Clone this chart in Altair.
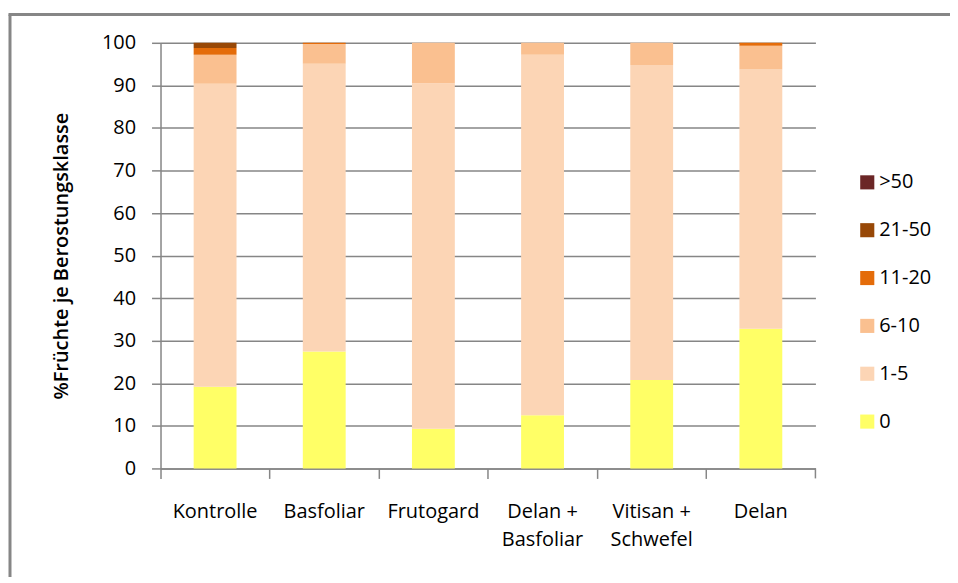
import altair as alt
import pandas as pd

categories = ["Kontrolle", "Basfoliar", "Frutogard", "Delan +\nBasfoliar", "Vitisan +\nSchwefel", "Delan"]
classes = ["0", "1-5", "6-10", "11-20", "21-50", ">50"]
v_0 = [19.2, 27.5, 9.3, 12.5, 20.8, 32.8]
v_1_5 = [71.2, 67.6, 81.2, 84.7, 74.0, 60.9]
v_6_10 = [6.8, 4.6, 9.5, 2.8, 5.2, 5.6]
v_11_20 = [1.6, 0.3, 0.0, 0.0, 0.0, 0.7]
v_21_50 = [1.2, 0.0, 0.0, 0.0, 0.0, 0.0]
v_50 = [0.0, 0.0, 0.0, 0.0, 0.0, 0.0]
colors = ["#FFFF66", "#FCD5B5", "#FAC090", "#E46C0A", "#984807", "#6B2626"]
yticks = list(range(0, 101, 10))

series = [v_0, v_1_5, v_6_10, v_11_20, v_21_50, v_50]
rows = []
for ci, cls in enumerate(classes):
    for ki, cat in enumerate(categories):
        rows.append({"cat": cat, "cls": cls, "val": series[ci][ki], "ord": ci})
df = pd.DataFrame(rows)

W, H = 657, 427
grey = "#868686"

bars = alt.Chart(df).mark_bar(size=43).encode(
    x=alt.X("cat:N", sort=categories, title=None,
            scale=alt.Scale(paddingInner=0, paddingOuter=0),
            axis=alt.Axis(labelAngle=0, bandPosition=0, ticks=True, tickSize=10,
                          labelPadding=23, domainColor=grey, tickColor=grey,
                          domainWidth=1.5, tickWidth=1.5,
                          labelExpr="split(datum.value, '\\n')", labelLineHeight=28,
                          labelFontSize=20, labelColor="#000000", grid=False)),
    y=alt.Y("val:Q", stack="zero", title="%Früchte je Berostungsklasse",
            scale=alt.Scale(domain=[0, 100], nice=False),
            axis=alt.Axis(values=yticks, tickSize=9, labelPadding=16, grid=True,
                          gridColor=grey, gridWidth=1.5, domainColor=grey, tickColor=grey,
                          domainWidth=1.5, tickWidth=1.5, labelFontSize=20,
                          labelColor="#000000", titleFontSize=20, titleFontWeight=600,
                          titleColor="#000000", titlePadding=30)),
    color=alt.Color("cls:N", scale=alt.Scale(domain=classes[::-1], range=colors[::-1]),
                    title=None,
                    legend=alt.Legend(orient="none", legendX=699, legendY=130,
                                      symbolType="square", symbolSize=200,
                                      symbolStrokeWidth=0, labelFontSize=20,
                                      labelColor="#000000", rowPadding=28,
                                      labelOffset=2, padding=0)),
    order=alt.Order("ord:Q", sort="ascending"),
)

frame_data = alt.Data(values=[{"a": 1}])
frame_left = alt.Chart(frame_data).mark_rule(color=grey, strokeWidth=3).encode(
    x=alt.value(-151), y=alt.value(-28.5), y2=alt.value(640))
frame_top = alt.Chart(frame_data).mark_rule(color=grey, strokeWidth=3).encode(
    x=alt.value(-152.5), x2=alt.value(840), y=alt.value(-28.5))
end_tick = alt.Chart(frame_data).mark_rule(color=grey, strokeWidth=1.5).encode(
    x=alt.value(W), y=alt.value(H), y2=alt.value(H + 10))

chart = alt.layer(bars, frame_left, frame_top, end_tick).properties(
    width=W, height=H,
    autosize=alt.AutoSizeParams(type="none"),
    padding={"left": 153, "top": 34, "right": 135, "bottom": 108},
).configure(font="Open Sans").configure_view(stroke=None)

chart.save("out.html", embed_options={"renderer": "svg", "actions": False})
